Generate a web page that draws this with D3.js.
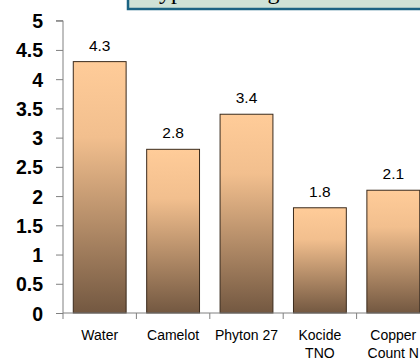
<!DOCTYPE html>
<html>
<head>
<meta charset="utf-8">
<script src="https://cdn.jsdelivr.net/npm/d3@7"></script>
<style>
  body { margin: 0; background: #fff; overflow: hidden; }
</style>
</head>
<body>
<div class="chart"></div>
<script>
// data
const categories = ["Water", "Camelot", "Phyton 27", "Kocide\nTNO", "Copper\nCount N"];
const values = [4.3, 2.8, 3.4, 1.8, 2.1];
const yTicks = [0, 0.5, 1, 1.5, 2, 2.5, 3, 3.5, 4, 4.5, 5];
const titleText = "Typical rating";

// sizes
const size = { width: 420, height: 358 };
const margin = { top: 20.7, bottom: 45, left: 63, right: -10 };

const svg = d3.select(".chart")
    .append("svg")
    .attr("width", size.width)
    .attr("height", size.height);

// gradient for bars
const defs = svg.append("defs");
const grad = defs.append("linearGradient")
    .attr("id", "barGrad")
    .attr("x1", 0).attr("y1", 0)
    .attr("x2", 0).attr("y2", 1);
grad.append("stop").attr("offset", "0%").attr("stop-color", "#ffcc99");
grad.append("stop").attr("offset", "30%").attr("stop-color", "#f2bf8e");
grad.append("stop").attr("offset", "100%").attr("stop-color", "#735841");

const x = d3.scaleBand()
    .domain(categories)
    .range([margin.left, margin.left + 73.4 * 5])
    .paddingInner(0.28)
    .paddingOuter(0.14);

const y = d3.scaleLinear()
    .domain([0, 5])
    .range([313, margin.top]);

// bars
svg.append("g")
    .selectAll("rect")
    .data(values)
    .enter()
    .append("rect")
    .attr("x", (d, i) => x(categories[i]))
    .attr("y", (d) => y(d))
    .attr("width", x.bandwidth())
    .attr("height", (d) => y(0) - y(d))
    .attr("fill", "url(#barGrad)")
    .attr("stroke", "#3a2a1c")
    .attr("stroke-width", 1);

// value labels
svg.append("g")
    .selectAll("text")
    .data(values)
    .enter()
    .append("text")
    .attr("x", (d, i) => x(categories[i]) + x.bandwidth() / 2)
    .attr("y", (d) => y(d) - 11)
    .attr("text-anchor", "middle")
    .attr("font-family", "Arial, 'Liberation Sans', sans-serif")
    .attr("font-size", 15.5)
    .attr("fill", "#000")
    .text((d) => d.toFixed(1));

// y axis
const yAxis = svg.append("g")
    .attr("transform", `translate(${margin.left},0)`)
    .call(d3.axisLeft(y).tickValues(yTicks).tickSize(7).tickFormat((d) => d));
yAxis.select(".domain").attr("stroke", "#808080").attr("d", `M-7,${y(5)}H0V${y(0)}`);
yAxis.selectAll(".tick line").attr("stroke", "#808080");
yAxis.selectAll(".tick text")
    .attr("x", -20)
    .attr("dy", "0.36em")
    .attr("font-family", "Arial, 'Liberation Sans', sans-serif")
    .attr("font-size", 19.5)
    .attr("font-weight", "bold")
    .attr("fill", "#000");

// x axis
const xAxisG = svg.append("g");
xAxisG.append("line")
    .attr("x1", margin.left).attr("x2", size.width)
    .attr("y1", y(0)).attr("y2", y(0))
    .attr("stroke", "#808080");
const step = x.step();
xAxisG.selectAll(".xtick")
    .data(categories)
    .enter()
    .append("line")
    .attr("class", "xtick")
    .attr("x1", (d) => x(d) - x.paddingInner() * step / 2)
    .attr("x2", (d) => x(d) - x.paddingInner() * step / 2)
    .attr("y1", y(0)).attr("y2", y(0) + 6)
    .attr("stroke", "#808080");

const xl = xAxisG.selectAll(".xlab")
    .data(categories)
    .enter()
    .append("text")
    .attr("class", "xlab")
    .attr("x", (d) => x(d) + x.bandwidth() / 2)
    .attr("y", 340)
    .attr("text-anchor", "middle")
    .attr("font-family", "Arial, 'Liberation Sans', sans-serif")
    .attr("font-size", 14)
    .attr("fill", "#000");
xl.each(function (d) {
    const lines = d.split("\n");
    const t = d3.select(this);
    lines.forEach((ln, i) => {
        t.append("tspan")
            .attr("x", x(d) + x.bandwidth() / 2)
            .attr("dy", i === 0 ? 0 : 18)
            .text(ln);
    });
});

// title box (cut off at top)
const title = svg.append("g");
title.append("rect")
    .attr("x", 128).attr("y", -40)
    .attr("width", 320).attr("height", 49)
    .attr("fill", "#cfe2d6")
    .attr("stroke", "#1b6383")
    .attr("stroke-width", 2.5);
title.append("text")
    .attr("x", 146).attr("y", -1)
    .attr("font-family", "'Liberation Serif', 'Times New Roman', serif")
    .attr("font-size", 24)
    .attr("fill", "#000")
    .text(titleText);
</script>
</body>
</html>
